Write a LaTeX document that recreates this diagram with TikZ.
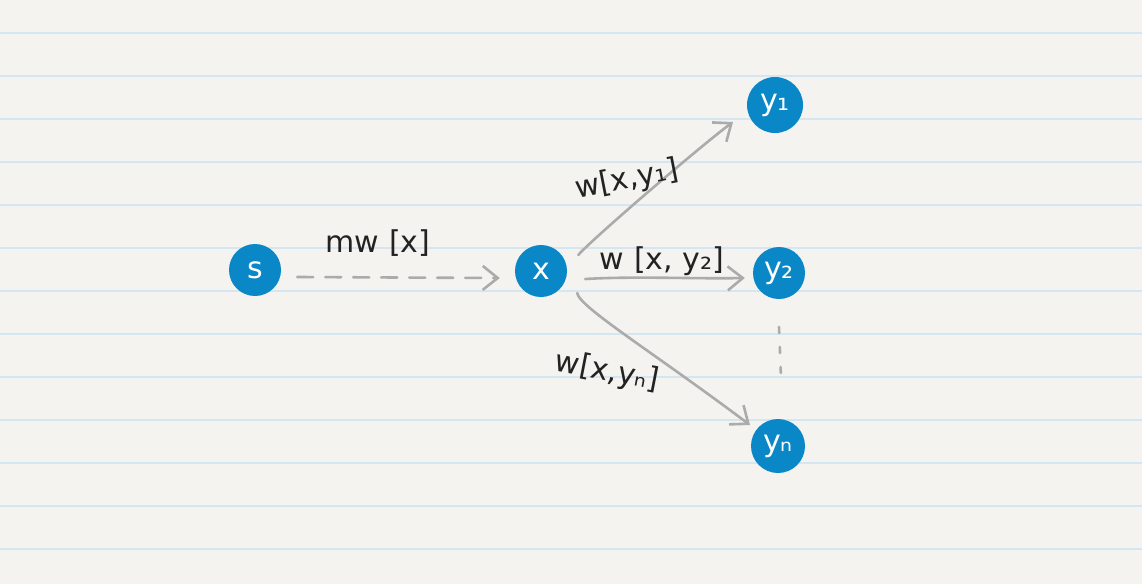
\documentclass[tikz,border=0pt]{standalone}
\usepackage{fontspec}
\setmainfont{DejaVu Sans}
\usetikzlibrary{arrows.meta}
\definecolor{paper}{HTML}{F4F3EF}
\definecolor{rulecol}{HTML}{D5E6F3}
\definecolor{dotcol}{HTML}{0A87C6}
\definecolor{edgecol}{HTML}{ABABAB}
\definecolor{ink}{HTML}{222222}
\begin{document}
\begin{tikzpicture}[x=1pt,y=-1pt,
  vnode/.style={circle,fill=dotcol,minimum size=52pt,inner sep=0pt,text=white,font=\fontsize{30}{30}\selectfont},
  edgeline/.style={draw=edgecol,line width=2.6pt,line cap=round,-{Straight Barb[length=15pt,width=24pt,line width=2.6pt]}},
  lab/.style={text=ink,font=\fontsize{30}{32}\selectfont}]
\fill[paper] (0,0) rectangle (1142,584);
\useasboundingbox (0,0) rectangle (1142,584);
\foreach \yy in {33,76,...,549} \draw[rulecol,line width=1.3pt] (0,\yy)--(1142,\yy);
% nodes
\node[vnode] (s) at (255,270) {s};
\node[vnode] (x) at (541,271) {x};
\node[vnode,minimum size=56pt] (y1) at (775,105) {y₁};
\node[vnode] (y2) at (779,273) {y₂};
\node[vnode,minimum size=54pt] (yn) at (778,446) {yₙ};
% edges
\draw[edgeline,dash pattern=on 16pt off 12pt] ([shift={(16,7)}]s.east) -- ([shift={(-15,7)}]x.west);
\draw[edgeline] ([shift={(11,-16)}]x.east) .. controls +(15,-17) and +(-30,22) .. ([shift={(-42,17)}]y1.center);
\draw[edgeline] ([shift={(18,8)}]x.east) .. controls +(50,-3) and +(-50,1) .. ([shift={(-8,5)}]y2.west);
\draw[edgeline] ([shift={(10,22)}]x.east) .. controls +(2,14) and +(-100,-75) .. ([shift={(-28,-21)}]yn.center);
% vertical ellipsis
\coordinate (d1) at (779,327);
\coordinate (d2) at (781,378);
\draw[draw=edgecol,line width=2.6pt,line cap=round,dash pattern=on 6pt off 14pt] (d1) -- (d2);
% labels
\node[lab] (lsx) at (378,243) {mw [x]};
\node[lab,rotate=11] (l1) at (627,180) {w[x,y₁]};
\node[lab] (l2) at (662,261) {w [x, y₂]};
\node[lab,rotate=-11] (ln) at (607,372) {w[x,yₙ]};
\end{tikzpicture}
\end{document}
